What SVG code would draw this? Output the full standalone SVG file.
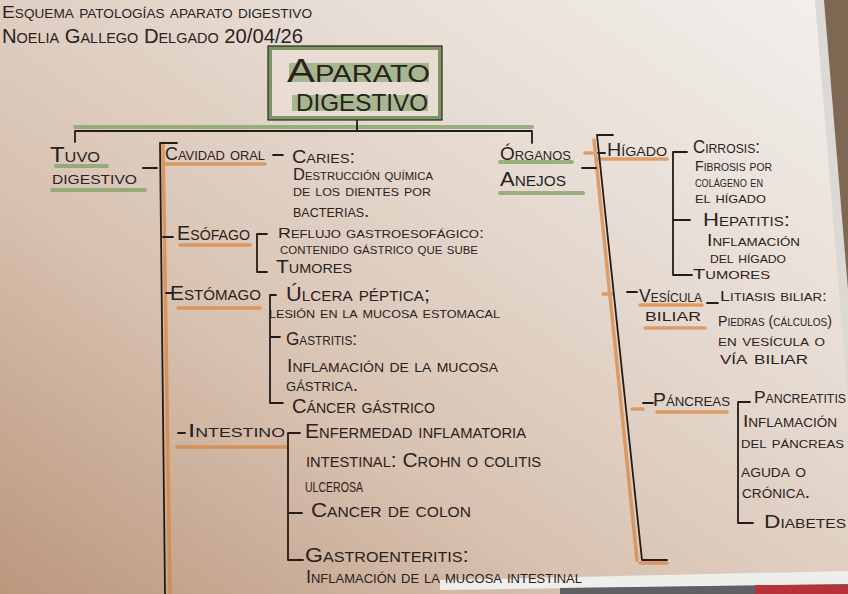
<svg xmlns="http://www.w3.org/2000/svg" width="848" height="594" viewBox="0 0 848 594">
<defs>
<linearGradient id="paper" x1="0" y1="1" x2="1" y2="0">
<stop offset="0" stop-color="#bb977d"/>
<stop offset="0.35" stop-color="#d8c2b1"/>
<stop offset="0.7" stop-color="#e8ded6"/>
<stop offset="1" stop-color="#f2f0ed"/>
</linearGradient>
<style>
.t{font-family:"Liberation Sans",Arial,sans-serif;font-variant:small-caps;fill:#2a221d;font-size:16px}
.ln{stroke:#231c18;stroke-width:1.8;fill:none;stroke-linecap:round;stroke-linejoin:round}
.or{stroke:#d9823c;stroke-width:3.5;stroke-opacity:.7;fill:none;stroke-linecap:round}
.gr{stroke:#86a46a;stroke-width:4;stroke-opacity:.8;fill:none;stroke-linecap:round}
</style>
</defs>
<g id="background">
<rect x="0" y="0" width="848" height="594" fill="url(#paper)"/>
<polygon points="815,0 848,0 848,400" fill="#dcd8d4"/>
<polygon points="824,0 848,0 848,290" fill="#7f6853"/>
<polygon points="440,580 848,571 848,584 440,590" fill="#eeeeec"/>
<polygon points="560,588 848,584 848,594 560,594" fill="#5f5f66"/>
<rect x="755" y="585" width="93" height="9" fill="#b8323a"/>
</g>
<g id="header">
<text class="t" style="font-size:17px" x="2" y="18" textLength="310" lengthAdjust="spacingAndGlyphs">Esquema patologías aparato digestivo</text>
<text class="t" style="font-size:21px" x="2" y="43" textLength="301" lengthAdjust="spacingAndGlyphs">Noelia Gallego Delgado 20/04/26</text>
</g>
<g id="highlights">
<path class="gr" d="M75 127 H532"/>
<path class="gr" d="M56 166 H107 M52 190 H145 M500 162 H572 M500 193 H583"/>
<path class="or" d="M163 143 L170 594 M165 164 H265 M180 245 H250 M178 308 H260 M177 447 H287"/>
<path class="or" d="M594 140 L637 560 M585 153 H592 M603 294 H613 M632 409 H643 M640 563 H667 M598 159 H667 M640 305 H702 M645 328 H705 M657 412 H727"/>
</g>
<g id="connectors">
<path class="ln" d="M357 118 V131 M75 131 H532 M75 131 V142 M532 131 V143"/>
<path class="ln" d="M143 168 H157 M177 143 H160 L165 594"/>
<path class="ln" d="M273 155 H283"/>
<path class="ln" d="M163 237 H173 M267 234 H257 V272 H267"/>
<path class="ln" d="M166 293 H172 M276 295 H270 V403 H283 M270 337 H280"/>
<path class="ln" d="M178 433 H185 M300 433 H288 V560 H303 M288 513 H302"/>
<path class="ln" d="M582 168 H596 M613 135 H597 L642 560 H667"/>
<path class="ln" d="M598 153 H605 M687 152 H673 V275 H692 M673 220 H690"/>
<path class="ln" d="M627 292 H637 M707 303 H718"/>
<path class="ln" d="M643 403 H653 M750 402 H738 V523 H753"/>
</g>
<g id="aparato-digestivo">
<rect x="270" y="48" width="170" height="70" fill="#e9ddd3" stroke="#7c9463" stroke-width="4"/>
<rect x="268" y="46" width="174" height="74" fill="none" stroke="#2b2a22" stroke-width="1.2"/>
<rect x="289" y="63" width="140" height="19" fill="#8fa978" opacity=".75"/>
<rect x="292" y="95" width="136" height="16" fill="#8fa978" opacity=".75"/>
<text class="t" style="font-size:33px" x="287" y="82" textLength="143" lengthAdjust="spacingAndGlyphs">Aparato</text>
<text class="t" style="font-size:24px;font-variant:normal;text-transform:uppercase" x="296" y="111" textLength="132" lengthAdjust="spacingAndGlyphs">digestivo</text>
</g>
<g id="tubo-digestivo">
<text class="t" style="font-size:22px" x="50" y="162" textLength="50" lengthAdjust="spacingAndGlyphs">Tuvo</text>
<text class="t" style="font-size:18px" x="52" y="184" textLength="85" lengthAdjust="spacingAndGlyphs">digestivo</text>
</g>
<g id="cavidad-oral">
<text class="t" style="font-size:18px" x="165" y="160" textLength="100" lengthAdjust="spacingAndGlyphs">Cavidad oral</text>
<text class="t" style="font-size:18px" x="292" y="163" textLength="63" lengthAdjust="spacingAndGlyphs">Caries:</text>
<text class="t" x="293" y="180" textLength="140" lengthAdjust="spacingAndGlyphs">Destrucción química</text>
<text class="t" x="293" y="196" textLength="138" lengthAdjust="spacingAndGlyphs">de los dientes por</text>
<text class="t" style="font-size:18px" x="293" y="217" textLength="76" lengthAdjust="spacingAndGlyphs">bacterias.</text>
</g>
<g id="esofago">
<text class="t" style="font-size:21px" x="177" y="240" textLength="73" lengthAdjust="spacingAndGlyphs">Esófago</text>
<text class="t" style="font-size:15px" x="278" y="238" textLength="206" lengthAdjust="spacingAndGlyphs">Reflujo gastroesofágico:</text>
<text class="t" style="font-size:14px" x="280" y="254" textLength="198" lengthAdjust="spacingAndGlyphs">contenido gástrico que sube</text>
<text class="t" style="font-size:19px" x="276" y="273" textLength="76" lengthAdjust="spacingAndGlyphs">Tumores</text>
</g>
<g id="estomago">
<text class="t" style="font-size:21px" x="170" y="300" textLength="91" lengthAdjust="spacingAndGlyphs">Estómago</text>
<text class="t" style="font-size:20px" x="286" y="301" textLength="144" lengthAdjust="spacingAndGlyphs">Úlcera péptica;</text>
<text class="t" style="font-size:15px" x="269" y="318" textLength="231" lengthAdjust="spacingAndGlyphs">lesión en la mucosa estomacal</text>
<text class="t" style="font-size:19px" x="286" y="345" textLength="71" lengthAdjust="spacingAndGlyphs">Gastritis:</text>
<text class="t" style="font-size:18px" x="287" y="372" textLength="211" lengthAdjust="spacingAndGlyphs">Inflamación de la mucosa</text>
<text class="t" style="font-size:19px" x="286" y="391" textLength="72" lengthAdjust="spacingAndGlyphs">gástrica.</text>
<text class="t" style="font-size:20px" x="292" y="413" textLength="143" lengthAdjust="spacingAndGlyphs">Cáncer gástrico</text>
</g>
<g id="intestino">
<text class="t" style="font-size:19px" x="188" y="437" textLength="97" lengthAdjust="spacingAndGlyphs">Intestino</text>
<text class="t" style="font-size:20px" x="305" y="438" textLength="221" lengthAdjust="spacingAndGlyphs">Enfermedad inflamatoria</text>
<text class="t" style="font-size:20px" x="306" y="467" textLength="235" lengthAdjust="spacingAndGlyphs">intestinal: Crohn o colitis</text>
<text class="t" style="font-size:20px" x="305" y="492" textLength="58" lengthAdjust="spacingAndGlyphs">ulcerosa</text>
<text class="t" style="font-size:20px" x="311" y="517" textLength="160" lengthAdjust="spacingAndGlyphs">Cancer de colon</text>
<text class="t" style="font-size:20px" x="305" y="562" textLength="164" lengthAdjust="spacingAndGlyphs">Gastroenteritis:</text>
<text class="t" style="font-size:18px" x="306" y="583" textLength="276" lengthAdjust="spacingAndGlyphs">Inflamación de la mucosa intestinal</text>
</g>
<g id="organos-anejos">
<text class="t" style="font-size:19px" x="500" y="160" textLength="71" lengthAdjust="spacingAndGlyphs">Órganos</text>
<text class="t" style="font-size:20px" x="500" y="186" textLength="66" lengthAdjust="spacingAndGlyphs">Anejos</text>
</g>
<g id="higado">
<text class="t" style="font-size:18px" x="607" y="156" textLength="60" lengthAdjust="spacingAndGlyphs">Hígado</text>
<text class="t" style="font-size:18px" x="693" y="153" textLength="67" lengthAdjust="spacingAndGlyphs">Cirrosis:</text>
<text class="t" style="font-size:15px" x="695" y="171" textLength="77" lengthAdjust="spacingAndGlyphs">Fibrosis por</text>
<text class="t" style="font-size:14px" x="695" y="187" textLength="68" lengthAdjust="spacingAndGlyphs">colágeno en</text>
<text class="t" style="font-size:15px" x="695" y="203" textLength="71" lengthAdjust="spacingAndGlyphs">el hígado</text>
<text class="t" style="font-size:19px" x="703" y="226" textLength="87" lengthAdjust="spacingAndGlyphs">Hepatitis:</text>
<text class="t" x="707" y="246" textLength="93" lengthAdjust="spacingAndGlyphs">Inflamación</text>
<text class="t" style="font-size:15px" x="710" y="263" textLength="76" lengthAdjust="spacingAndGlyphs">del hígado</text>
<text class="t" style="font-size:15px" x="693" y="279" textLength="77" lengthAdjust="spacingAndGlyphs">Tumores</text>
</g>
<g id="vesicula-biliar">
<text class="t" style="font-size:19px" x="639" y="302" textLength="63" lengthAdjust="spacingAndGlyphs">Vesícula</text>
<text class="t" style="font-size:19px" x="645" y="321" textLength="56" lengthAdjust="spacingAndGlyphs">biliar</text>
<text class="t" style="font-size:15px" x="720" y="301" textLength="107" lengthAdjust="spacingAndGlyphs">Litiasis biliar:</text>
<text class="t" style="font-size:15.5px" x="718" y="326" textLength="114" lengthAdjust="spacingAndGlyphs">Piedras (cálculos)</text>
<text class="t" x="718" y="346" textLength="107" lengthAdjust="spacingAndGlyphs">en vesícula o</text>
<text class="t" style="font-size:17px" x="720" y="364" textLength="88" lengthAdjust="spacingAndGlyphs">vía biliar</text>
</g>
<g id="pancreas">
<text class="t" style="font-size:19px" x="653" y="406" textLength="77" lengthAdjust="spacingAndGlyphs">Páncreas</text>
<text class="t" style="font-size:17px" x="754" y="403" textLength="92" lengthAdjust="spacingAndGlyphs">Pancreatitis</text>
<text class="t" style="font-size:17px" x="743" y="427" textLength="94" lengthAdjust="spacingAndGlyphs">Inflamación</text>
<text class="t" style="font-size:16px" x="741" y="448" textLength="103" lengthAdjust="spacingAndGlyphs">del páncreas</text>
<text class="t" style="font-size:18px" x="741" y="477" textLength="65" lengthAdjust="spacingAndGlyphs">aguda o</text>
<text class="t" style="font-size:18px" x="742" y="498" textLength="68" lengthAdjust="spacingAndGlyphs">crónica.</text>
<text class="t" style="font-size:19px" x="764" y="528" textLength="82" lengthAdjust="spacingAndGlyphs">Diabetes</text>
</g>
</svg>
